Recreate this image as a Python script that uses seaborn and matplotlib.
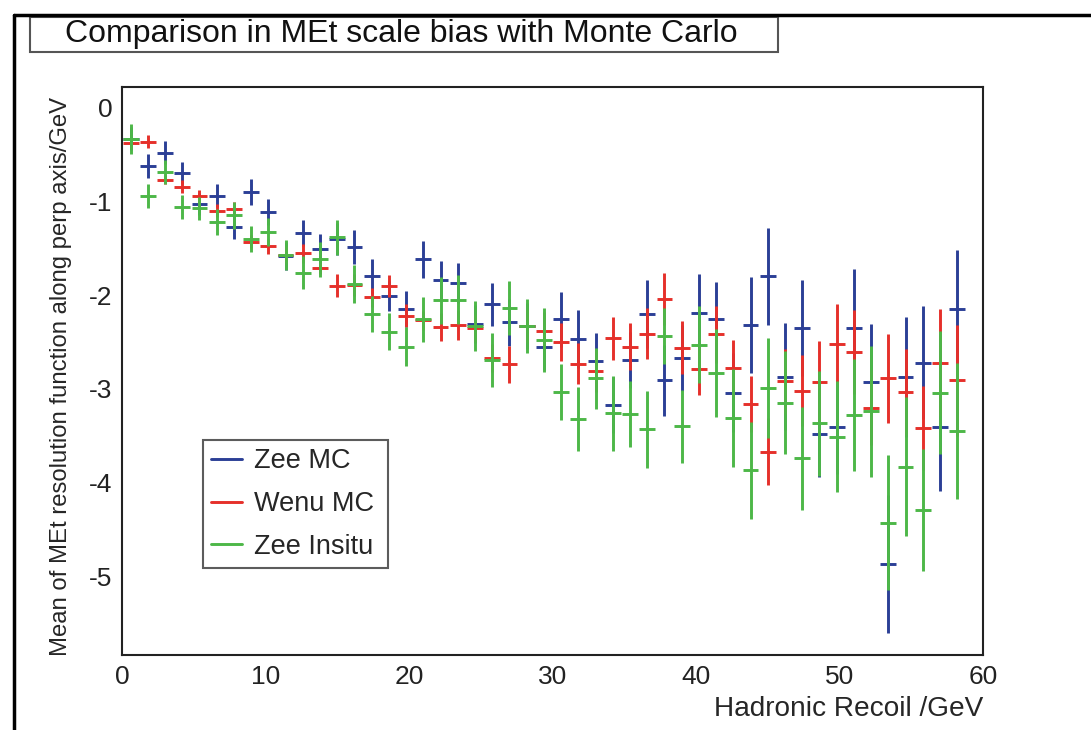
import numpy as np
import matplotlib
matplotlib.use("Agg")
import matplotlib.pyplot as plt
import seaborn as sns
from matplotlib.lines import Line2D
from matplotlib.patches import Rectangle

# ---------------- data ----------------
recoil_bins = [0.6, 1.8, 3.0, 4.2, 5.4, 6.6, 7.8, 9.0, 10.2, 11.4,
               12.6, 13.8, 15.0, 16.2, 17.4, 18.6, 19.8, 21.0, 22.2, 23.4,
               24.6, 25.8, 27.0, 28.2, 29.4, 30.6, 31.8, 33.0, 34.2, 35.4,
               36.6, 37.8, 39.0, 40.2, 41.4, 42.6, 43.8, 45.0, 46.2, 47.4,
               48.6, 49.8, 51.0, 52.2, 53.4, 54.6, 55.8, 57.0, 58.2]

zee_mc = [-0.33, -0.62, -0.48, -0.70, -1.03, -0.94, -1.27, -0.90, -1.11, -1.58,
          -1.34, -1.51, -1.40, -1.49, -1.80, -2.01, -2.15, -1.62, -1.84, -1.87,
          -2.31, -2.10, -2.29, -2.33, -2.55, -2.26, -2.47, -2.70, -3.17, -2.69,
          -2.20, -2.91, -2.67, -2.19, -2.26, -3.04, -2.32, -1.80, -2.87, -2.35,
          -3.48, -3.41, -2.35, -2.93, -4.87, -2.87, -2.72, -3.41, -2.15]
zee_mc_err = [0.12, 0.13, 0.12, 0.12, 0.12, 0.12, 0.13, 0.14, 0.14, 0.15,
              0.14, 0.16, 0.17, 0.18, 0.19, 0.16, 0.19, 0.20, 0.20, 0.21,
              0.20, 0.23, 0.25, 0.25, 0.25, 0.29, 0.31, 0.30, 0.30, 0.30,
              0.36, 0.38, 0.35, 0.42, 0.40, 0.42, 0.51, 0.52, 0.57, 0.51,
              0.46, 0.50, 0.63, 0.62, 0.74, 0.64, 0.60, 0.68, 0.63]

wenu_mc = [-0.38, -0.365, -0.77, -0.845, -0.945, -1.10, -1.08, -1.43, -1.48, -1.57,
           -1.555, -1.71, -1.90, -1.89, -2.025, -1.905, -2.22, -2.27, -2.34, -2.32,
           -2.35, -2.67, -2.74, -2.33, -2.38, -2.50, -2.73, -2.81, -2.46, -2.55,
           -2.41, -2.04, -2.56, -2.79, -2.42, -2.78, -3.165, -3.67, -2.92, -3.02,
           -2.925, -2.52, -2.61, -3.20, -2.89, -3.03, -3.42, -2.72, -2.91]
wenu_mc_err = [0.05, 0.07, 0.05, 0.07, 0.07, 0.07, 0.07, 0.07, 0.08, 0.09,
               0.10, 0.06, 0.12, 0.12, 0.10, 0.12, 0.12, 0.10, 0.15, 0.16,
               0.15, 0.15, 0.20, 0.18, 0.20, 0.20, 0.22, 0.22, 0.23, 0.25,
               0.27, 0.28, 0.28, 0.28, 0.30, 0.30, 0.30, 0.36, 0.35, 0.38,
               0.43, 0.43, 0.45, 0.40, 0.47, 0.46, 0.45, 0.57, 0.59]

zee_insitu = [-0.33, -0.94, -0.685, -1.06, -1.075, -1.22, -1.15, -1.40, -1.33, -1.575,
              -1.76, -1.62, -1.385, -1.88, -2.20, -2.39, -2.55, -2.26, -2.055, -2.05,
              -2.33, -2.69, -2.14, -2.33, -2.48, -3.03, -3.32, -2.89, -3.26, -3.27,
              -3.43, -2.435, -3.40, -2.53, -2.83, -3.31, -3.87, -2.99, -3.15, -3.74,
              -3.37, -3.51, -3.28, -3.24, -4.43, -3.83, -4.29, -3.04, -3.45]
zee_insitu_err = [0.16, 0.13, 0.13, 0.13, 0.12, 0.14, 0.14, 0.14, 0.15, 0.16,
                  0.18, 0.19, 0.19, 0.20, 0.19, 0.20, 0.21, 0.24, 0.25, 0.26,
                  0.27, 0.29, 0.29, 0.29, 0.34, 0.30, 0.34, 0.33, 0.40, 0.35,
                  0.41, 0.30, 0.39, 0.41, 0.47, 0.52, 0.52, 0.53, 0.55, 0.55,
                  0.56, 0.59, 0.60, 0.70, 0.72, 0.74, 0.65, 0.66, 0.73]

series_names = ["Zee MC", "Wenu MC", "Zee Insitu"]
series_colors = ["#2b3f96", "#e5302a", "#4db748"]

title_text = "Comparison in MEt scale bias with Monte Carlo"
x_label = "Hadronic Recoil /GeV"
y_label = "Mean of MEt resolution function along perp axis/GeV"

# ---------------- style ----------------
sns.set_theme(style="white")
plt.rcParams["font.family"] = ["Liberation Sans", "DejaVu Sans"]

W, H = 1091, 730
fig = plt.figure(figsize=(W / 100, H / 100), dpi=100)
fig.patch.set_facecolor("white")

ax = fig.add_axes([122 / W, 1 - 655 / H, (983 - 122) / W, (655 - 87) / H])

series = [(zee_mc, zee_mc_err), (wenu_mc, wenu_mc_err), (zee_insitu, zee_insitu_err)]
for (vals, errs), name, col in zip(series, series_names, series_colors):
    ax.errorbar(recoil_bins, vals, yerr=errs, xerr=0.55, fmt="none",
                ecolor=col, elinewidth=2.1, capsize=0)

ax.set_xlim(0, 60)
ax.set_ylim(-5.84, 0.22)
ax.set_xticks([0, 10, 20, 30, 40, 50, 60])
ax.set_xticks(np.arange(0, 61, 2), minor=True)
ax.set_yticks([0, -1, -2, -3, -4, -5])
ax.set_yticks(np.arange(-5.8, 0.21, 0.2), minor=True)
ax.tick_params(axis="both", which="both", direction="in", top=False, right=False,
               colors="#222222", labelsize=19)
ax.tick_params(axis="y", which="major", length=20, width=1.5, pad=7)
ax.tick_params(axis="y", which="minor", length=10, width=1.2)
ax.tick_params(axis="x", which="major", length=18, width=1.5, pad=7)
ax.tick_params(axis="x", which="minor", length=9, width=1.2)
ax.set_yticklabels(["0", "-1", "-2", "-3", "-4", "-5"])
for s in ax.spines.values():
    s.set_color("#222222")
    s.set_linewidth(1.5)

ax.set_xlabel(x_label, fontsize=20.2, loc="right", labelpad=5)
ax.set_ylabel(y_label, fontsize=17.2)
ax.yaxis.set_label_coords(-0.058, 0.49)

handles = [Line2D([0], [0], color=c, lw=2.1) for c in series_colors]
leg = ax.legend(handles, series_names, loc="lower left",
                bbox_to_anchor=(81 / 861, 87 / 568, 185 / 861, 133 / 568),
                mode="expand", borderaxespad=0, fontsize=19.5, frameon=True,
                fancybox=False, handlelength=1.15, handletextpad=0.45,
                labelspacing=0.62, borderpad=0.3)
leg.get_frame().set_edgecolor("#333333")
leg.get_frame().set_linewidth(1.5)

# title box
fig.add_artist(Rectangle((30 / W, 1 - 52 / H), 748 / W, 35 / H,
                         transform=fig.transFigure, fc="white", ec="#555555", lw=1.5))
fig.text(65 / W, 1 - 34 / H, title_text, ha="left", va="center", fontsize=23,
         color="#111111")

# outer canvas frame
fig.add_artist(Line2D([14 / W, 14 / W], [0, 1 - 15 / H], transform=fig.transFigure,
                      color="black", lw=2.5))
fig.add_artist(Line2D([14 / W, 1], [1 - 15 / H, 1 - 15 / H], transform=fig.transFigure,
                      color="black", lw=2.5))

fig.savefig("out.png", dpi=100, facecolor="white")
